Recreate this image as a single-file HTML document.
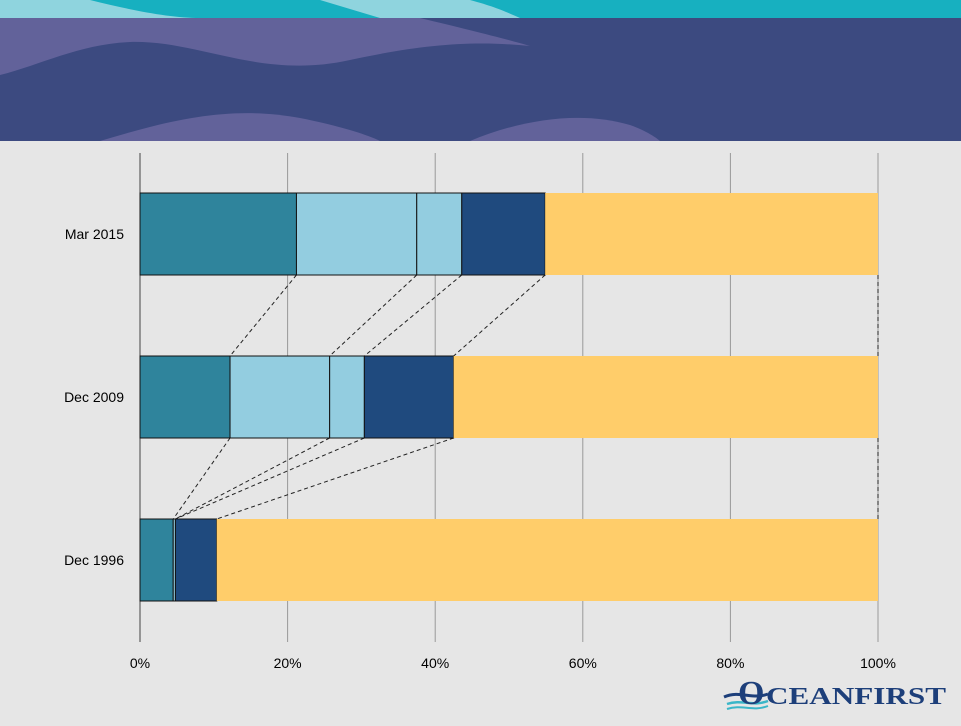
<!DOCTYPE html>
<html><head><meta charset="utf-8"><style>
body{margin:0;width:961px;height:721px;overflow:hidden;background:#e6e6e6;font-family:"Liberation Sans",sans-serif}
</style></head><body>
<svg width="961" height="721" xmlns="http://www.w3.org/2000/svg">
<rect x="0" y="0" width="961" height="721" fill="#e6e6e6"/>
<g>
<rect x="0" y="0" width="961" height="141" fill="#3c4a80"/>
<rect x="0" y="0" width="961" height="18" fill="#17b0c0"/>
<path d="M90,0 C130,10 170,18 200,18 L0,18 L0,0 Z" fill="#8fd4de"/>
<path d="M320,0 L470,0 C500,8 510,14 520,18 L380,18 Z" fill="#8fd4de"/>
<path d="M0,18 L420,18 C470,30 510,40 530,46 C470,40 420,45 350,60 C260,80 200,40 130,42 C80,44 40,65 0,75 Z" fill="#62629a"/>
<path d="M100,141 C170,120 230,105 300,118 C360,130 380,141 380,141 Z" fill="#62629a"/>
<path d="M470,141 C520,120 580,110 630,125 C650,132 660,141 660,141 Z" fill="#62629a"/>
</g>
<g id="chart"></g>
<g>
<path d="M724,697 C740,690 752,700 768,694" stroke="#1d3f7a" stroke-width="3" fill="none"/>
<path d="M727,704 C742,699 752,707 768,701" stroke="#3ab6c8" stroke-width="2.5" fill="none"/>
<path d="M727,709 C742,704 752,712 768,706" stroke="#3ab6c8" stroke-width="2" fill="none"/>
<text x="738" y="704" font-family="Liberation Serif,serif" font-size="34" font-weight="bold" fill="#1d3f7a">O</text>
<text x="766" y="704" font-family="Liberation Serif,serif" font-size="24" font-weight="bold" fill="#1d3f7a" textLength="180" lengthAdjust="spacingAndGlyphs">CEANFIRST</text>
</g>
</svg>
<script>
const categories=["Mar 2015","Dec 2009","Dec 1996"];
const seriesA=[21.2,12.2,4.5];
const seriesB=[16.3,13.5,0.3];
const seriesC=[6.1,4.7,0];
const seriesD=[11.3,12.1,5.6];
const seriesE=[45.1,57.5,89.6];
const ticks=["0%","20%","40%","60%","80%","100%"];
const tickVals=[0,20,40,60,80,100];
const colors=["#2f849c","#93cde0","#93cde0","#1f4a7e","#ffcd6a"];
const NS="http://www.w3.org/2000/svg";
const g=document.getElementById("chart");


const x=v=>140+v*7.38;
const yTop=i=>193+i*163;
const bh=82;
function el(t,a){const e=document.createElementNS(NS,t);for(const k in a)e.setAttribute(k,a[k]);g.appendChild(e);return e;}
tickVals.forEach((v,i)=>{
 const l=el("line",{x1:x(v),x2:x(v),y1:153,y2:642,stroke:i==0?"#444":"#999","stroke-width":1});
 
 
 const t=el("text",{x:x(v),y:668,"text-anchor":"middle","font-size":14,fill:"#000"});
 t.textContent=ticks[i];
 
 
});
const series=[seriesA,seriesB,seriesC,seriesD,seriesE];
const cums=categories.map((c,i)=>{let s=0;const arr=[0];series.forEach(se=>{s+=se[i];arr.push(s);});return arr;});
// dashed connectors
for(let i=0;i<categories.length-1;i++){
 for(let k=1;k<=5;k++){
  const l=el("line",{x1:x(cums[i][k]),y1:yTop(i)+bh,x2:x(cums[i+1][k]),y2:yTop(i+1),stroke:"#222","stroke-width":1,"stroke-dasharray":"4,3"});
  
  
 }
}
categories.forEach((c,i)=>{
 series.forEach((se,k)=>{
  const r=el("rect",{x:x(cums[i][k]),y:yTop(i),width:Math.max(0,x(cums[i][k+1])-x(cums[i][k])),height:bh,fill:colors[k],stroke:k<4?"#111":"none","stroke-width":1});
  
  
 });
 const t=el("text",{x:124,y:yTop(i)+bh/2+5,"text-anchor":"end","font-size":14,fill:"#000"});
 t.textContent=c;
 
 
});
</script>
</body></html>
